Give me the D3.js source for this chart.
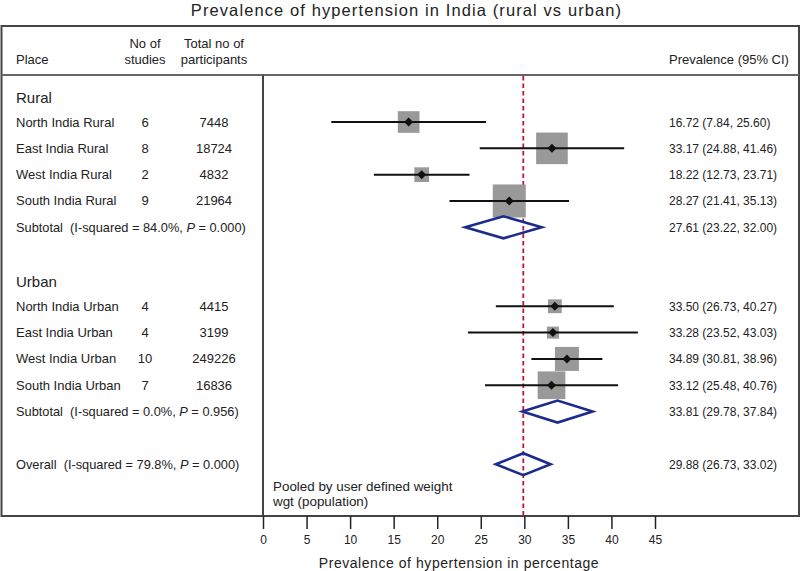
<!DOCTYPE html>
<html><head><meta charset="utf-8">
<script src="https://cdn.jsdelivr.net/npm/d3@7"></script>
<style>body{margin:0;background:#fff}svg{display:block}text{font-family:"Liberation Sans",Arial,sans-serif;fill:#222}</style>
</head><body>
<script>
const places = ["North India Rural","East India Rural","West India Rural","South India Rural","North India Urban","East India Urban","West India Urban","South India Urban"];
const studies = [6,8,2,9,4,4,10,7];
const participants = [7448,18724,4832,21964,4415,3199,249226,16836];
const est = [16.72,33.17,18.22,28.27,33.50,33.28,34.89,33.12];
const lo = [7.84,24.88,12.73,21.41,26.73,23.52,30.81,25.48];
const hi = [25.60,41.46,23.71,35.13,40.27,43.03,38.96,40.76];
const weights = [4.7,10.0,2.16,10.9,1.9,1.44,5.76,7.67];
const studyRows = [1,2,3,4,8,9,10,11];
const groupNames = ["Rural","Urban"];
const groupRows = [0,7];
const subLabels = ["Subtotal\u00a0\u00a0(I-squared = 84.0%, ","Subtotal\u00a0\u00a0(I-squared = 0.0%, "];
const subP = ["0.000","0.956"];
const subEst = [27.61,33.81];
const subLo = [23.22,29.78];
const subHi = [32.00,37.84];
const subRows = [5,12];
const overallLabel = "Overall\u00a0\u00a0(I-squared = 79.8%, ";
const overallP = "0.000";
const overallEst = 29.88, overallLo = 26.73, overallHi = 33.02;
const overallRow = 14;
const xTicks = [0,5,10,15,20,25,30,35,40,45];

const W=800,H=571;
const svg=d3.select("body").append("svg").attr("width",W).attr("height",H);
const x=d3.scaleLinear().domain([0,45]).range([263,655]);
const y=d3.scaleLinear().domain([0,14]).range([95.7,464.2]);
const fmt=d3.format(".2f");

svg.append("text").attr("x",406.5).attr("y",16).attr("text-anchor","middle").style("font-size","16.5px").style("letter-spacing","1.1px").text("Prevalence of hypertension in India (rural vs urban)");

// frame
svg.append("rect").attr("x",1.5).attr("y",26).attr("width",797.5).attr("height",490).attr("fill","none").attr("stroke","#444").attr("stroke-width",2);
svg.append("line").attr("x1",1.5).attr("x2",799).attr("y1",75).attr("y2",75).attr("stroke","#666").attr("stroke-width",2);
svg.append("line").attr("x1",263).attr("x2",263).attr("y1",75).attr("y2",516).attr("stroke","#444").attr("stroke-width",2);

// headers
const hfs="13px";
svg.append("text").attr("x",16).attr("y",64).style("font-size",hfs).text("Place");
svg.append("text").attr("x",145).attr("y",48).attr("text-anchor","middle").style("font-size",hfs).text("No of");
svg.append("text").attr("x",145).attr("y",64).attr("text-anchor","middle").style("font-size",hfs).text("studies");
svg.append("text").attr("x",214).attr("y",48).attr("text-anchor","middle").style("font-size",hfs).text("Total no of");
svg.append("text").attr("x",214).attr("y",64).attr("text-anchor","middle").style("font-size",hfs).text("participants");
svg.append("text").attr("x",669).attr("y",64).style("font-size",hfs).text("Prevalence (95% CI)");

const fs="13px", rfs="12px";
// group headers
svg.selectAll(".grp").data(groupNames).join("text").attr("x",16).attr("y",(d,i)=>y(groupRows[i])+7).style("font-size","15px").text(d=>d);

// red reference line
svg.append("line").attr("x1",x(overallEst)).attr("x2",x(overallEst)).attr("y1",76).attr("y2",516).attr("stroke","#c0143c").attr("stroke-width",1.8).attr("stroke-dasharray","4.5,3");

// study rows
const g=svg.selectAll(".study").data(places).join("g");
g.append("text").attr("x",16).attr("y",(d,i)=>y(studyRows[i])+4.5).style("font-size",fs).text(d=>d);
g.append("text").attr("x",145).attr("y",(d,i)=>y(studyRows[i])+4.5).attr("text-anchor","middle").style("font-size",fs).text((d,i)=>studies[i]);
g.append("text").attr("x",214).attr("y",(d,i)=>y(studyRows[i])+4.5).attr("text-anchor","middle").style("font-size",fs).text((d,i)=>participants[i]);
g.append("rect").attr("x",(d,i)=>x(est[i])-5*Math.sqrt(weights[i])).attr("y",(d,i)=>y(studyRows[i])-5*Math.sqrt(weights[i]))
  .attr("width",(d,i)=>10*Math.sqrt(weights[i])).attr("height",(d,i)=>10*Math.sqrt(weights[i])).attr("fill","#999");
g.append("line").attr("x1",(d,i)=>x(lo[i])).attr("x2",(d,i)=>x(hi[i])).attr("y1",(d,i)=>y(studyRows[i])).attr("y2",(d,i)=>y(studyRows[i])).attr("stroke","#111").attr("stroke-width",2);
g.append("path").attr("d",(d,i)=>{const cx=x(est[i]),cy=y(studyRows[i]);return `M${cx-4.5},${cy}L${cx},${cy-4.5}L${cx+4.5},${cy}L${cx},${cy+4.5}Z`;}).attr("fill","#111");
g.append("text").attr("x",669).attr("y",(d,i)=>y(studyRows[i])+4.5).style("font-size",rfs).text((d,i)=>`${fmt(est[i])} (${fmt(lo[i])}, ${fmt(hi[i])})`);

// subtotals & overall
const pooled = subEst.map((e,i)=>({label:subLabels[i],p:subP[i],e,l:subLo[i],h:subHi[i],row:subRows[i]}));
pooled.push({label:overallLabel,p:overallP,e:overallEst,l:overallLo,h:overallHi,row:overallRow});
const pg=svg.selectAll(".pool").data(pooled).join("g");
const lt=pg.append("text").attr("x",16).attr("y",d=>y(d.row)+4.5).style("font-size","12.8px");
lt.append("tspan").text(d=>d.label);
lt.append("tspan").style("font-style","italic").text("P");
lt.append("tspan").text(d=>" = "+d.p+")");
pg.append("path").attr("d",d=>{const cy=y(d.row);return `M${x(d.l)},${cy}L${x(d.e)},${cy-11}L${x(d.h)},${cy}L${x(d.e)},${cy+11}Z`;}).attr("fill","none").attr("stroke","#1c2c8c").attr("stroke-width",2.6);
pg.append("text").attr("x",669).attr("y",d=>y(d.row)+4.5).style("font-size",rfs).text(d=>`${fmt(d.e)} (${fmt(d.l)}, ${fmt(d.h)})`);

svg.append("text").attr("x",273).attr("y",490.5).style("font-size","13.4px").text("Pooled by user defined weight");
svg.append("text").attr("x",273).attr("y",506).style("font-size","13.4px").text("wgt (population)");

// axis
const ax=svg.append("g").attr("transform","translate(0,516)").call(d3.axisBottom(x).tickValues(xTicks).tickSize(13).tickPadding(6).tickFormat(d3.format("d")));
ax.select(".domain").remove();
ax.selectAll(".tick line").attr("stroke","#222").attr("stroke-width",1.5);
ax.selectAll(".tick text").style("font-size","12px").style("font-family","'Liberation Sans',Arial,sans-serif").attr("fill","#222");
svg.append("text").attr("x",459).attr("y",568).attr("text-anchor","middle").style("font-size","14px").style("letter-spacing","0.55px").text("Prevalence of hypertension in percentage");
</script>
</body></html>
